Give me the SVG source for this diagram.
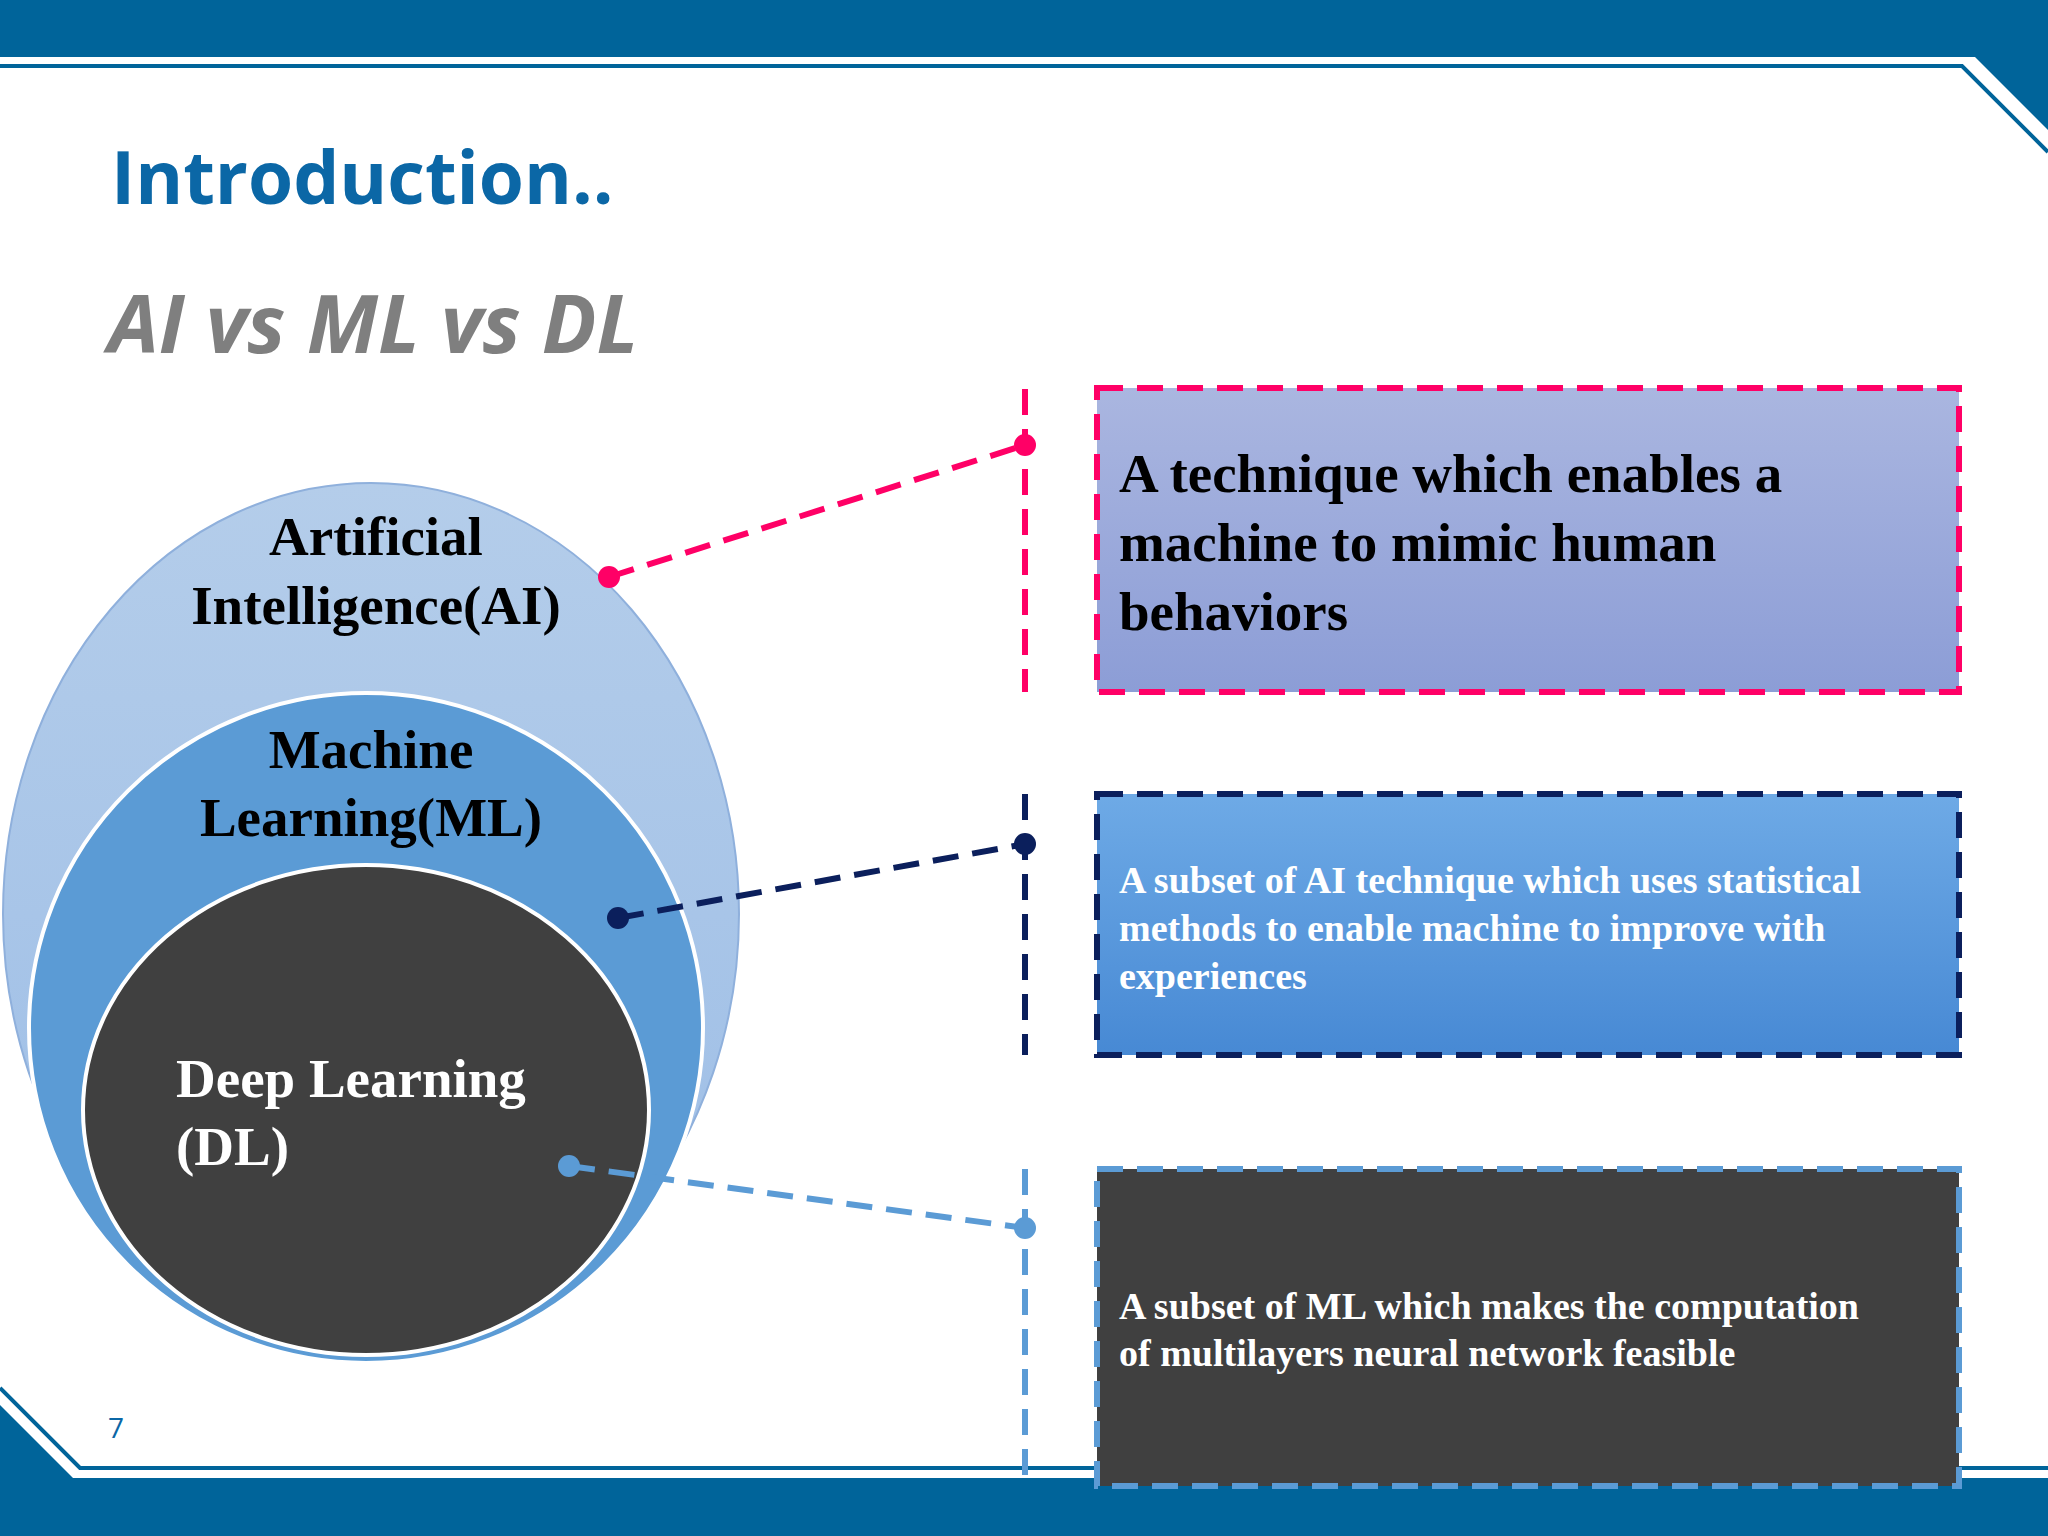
<svg xmlns="http://www.w3.org/2000/svg" width="2048" height="1536" viewBox="0 0 2048 1536">
<defs>
<linearGradient id="g1" x1="0" y1="0" x2="0" y2="1"><stop offset="0" stop-color="#aab6e0"/><stop offset="1" stop-color="#8c9dd6"/></linearGradient>
<linearGradient id="g2" x1="0" y1="0" x2="0" y2="1"><stop offset="0" stop-color="#6eaae6"/><stop offset="1" stop-color="#4789d4"/></linearGradient>
<linearGradient id="gai" x1="0" y1="0" x2="0" y2="1"><stop offset="0" stop-color="#b4cdea"/><stop offset="1" stop-color="#9cbde6"/></linearGradient>
<style>
.big{font-family:"Liberation Serif",serif;font-weight:bold;font-size:55px}
.sm{font-family:"Liberation Serif",serif;font-weight:bold;font-size:38px;fill:#fff}
</style>
</defs>
<rect width="2048" height="1536" fill="#fff"/>
<g id="frame">
<rect x="0" y="0" width="2048" height="57" fill="#00649a"/>
<polyline points="0,66 1962,66 2048,152" fill="none" stroke="#00649a" stroke-width="4"/>
<polygon points="1975,57 2048,57 2048,130" fill="#00649a"/>
<rect x="0" y="1478" width="2048" height="58" fill="#00649a"/>
<polyline points="0,1388 80,1468 2048,1468" fill="none" stroke="#00649a" stroke-width="4"/>
<polygon points="0,1405 73,1478 0,1478" fill="#00649a"/>
</g>
<text x="111" y="204" font-family="Open Sans,sans-serif" font-weight="bold" font-size="73" fill="#0b67a6">Introduction..</text>
<text x="108" y="353" font-family="Open Sans,sans-serif" font-weight="bold" font-style="italic" font-size="81" fill="#7f7f7f">AI vs ML vs DL</text>
<g id="ai"><ellipse cx="371" cy="914" rx="368" ry="431" fill="url(#gai)" stroke="#8fb0dc" stroke-width="2"/>
<text class="big" x="376" y="555" text-anchor="middle">Artificial</text><text class="big" x="376" y="624" text-anchor="middle">Intelligence(AI)</text></g>
<g id="ml"><ellipse cx="366" cy="1028" rx="337" ry="335" fill="#5b9bd5" stroke="#fff" stroke-width="4"/>
<text class="big" x="371" y="768" text-anchor="middle">Machine</text><text class="big" x="371" y="836" text-anchor="middle">Learning(ML)</text></g>
<g id="dl"><ellipse cx="366" cy="1110" rx="283" ry="245" fill="#404040" stroke="#fff" stroke-width="4"/>
<text class="big" x="176" y="1097" fill="#fff">Deep Learning</text><text class="big" x="176" y="1165" fill="#fff">(DL)</text></g>
<g id="connectors" fill="none" stroke-width="6" stroke-dasharray="26,14">
<line x1="609" y1="577" x2="1025" y2="445" stroke="#ff0066"/>
<line x1="1025" y1="389" x2="1025" y2="692" stroke="#ff0066"/>
<line x1="618" y1="918" x2="1025" y2="844" stroke="#0b1f5c"/>
<line x1="1025" y1="794" x2="1025" y2="1055" stroke="#0b1f5c"/>
<line x1="569" y1="1166" x2="1025" y2="1228" stroke="#5b9bd5"/>
<line x1="1025" y1="1169" x2="1025" y2="1486" stroke="#5b9bd5"/>
<g stroke="none"><circle cx="609" cy="577" r="11" fill="#ff0066"/><circle cx="1025" cy="445" r="11" fill="#ff0066"/>
<circle cx="618" cy="918" r="11" fill="#0b1f5c"/><circle cx="1025" cy="844" r="11" fill="#0b1f5c"/>
<circle cx="569" cy="1166" r="11" fill="#5b9bd5"/><circle cx="1025" cy="1228" r="11" fill="#5b9bd5"/></g>
</g>
<g id="box1"><rect x="1097" y="388" width="862" height="304" fill="url(#g1)" stroke="#ff0066" stroke-width="6" stroke-dasharray="26,14"/>
<text class="big" x="1119" y="492">A technique which enables a</text><text class="big" x="1119" y="561">machine to mimic human</text><text class="big" x="1119" y="630">behaviors</text></g>
<g id="box2"><rect x="1097" y="794" width="862" height="261" fill="url(#g2)" stroke="#0b1f5c" stroke-width="6" stroke-dasharray="26,14"/>
<text class="sm" x="1119" y="893">A subset of AI technique which uses statistical</text><text class="sm" x="1119" y="941">methods to enable machine to improve with</text><text class="sm" x="1119" y="989">experiences</text></g>
<g id="box3"><rect x="1097" y="1169" width="862" height="317" fill="#404040" stroke="#5b9bd5" stroke-width="6" stroke-dasharray="26,14"/>
<text class="sm" x="1119" y="1319">A subset of ML which makes the computation</text><text class="sm" x="1119" y="1366">of multilayers neural network feasible</text></g>
<text x="108" y="1438" font-family="Open Sans,sans-serif" font-size="28" fill="#0b67a6">7</text>
</svg>
